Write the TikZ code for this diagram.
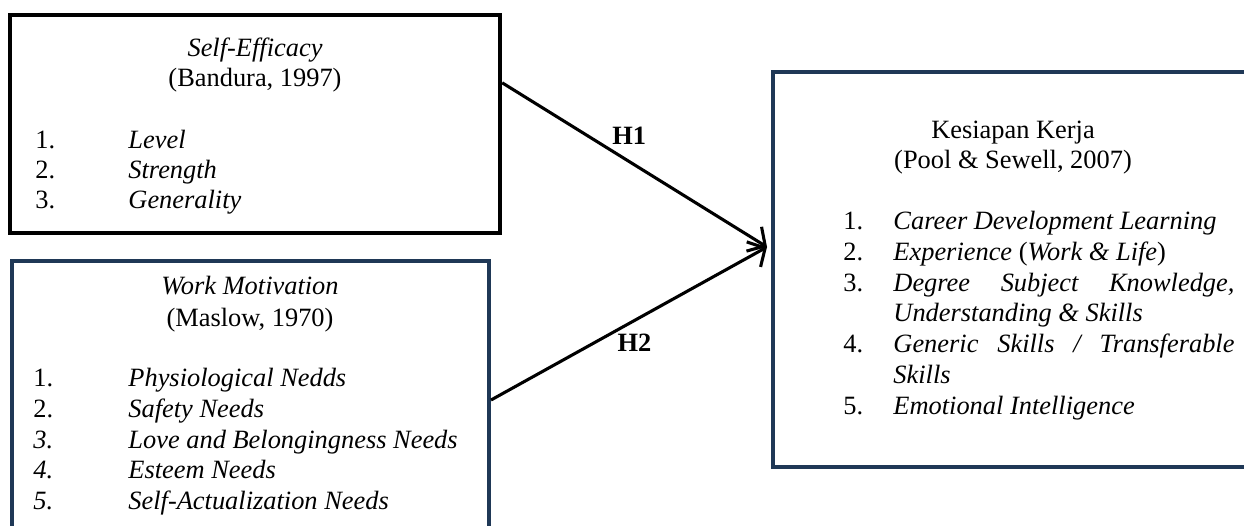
\documentclass[tikz,border=0pt]{standalone}
\usepackage{fontspec}
\setmainfont{Liberation Serif}[
  UprightFont={Liberation Serif},
  ItalicFont={Liberation Serif Italic},
  BoldFont={Liberation Serif Bold},
  BoldItalicFont={Liberation Serif Bold Italic}]
\usetikzlibrary{calc}
\usetikzlibrary{arrows.meta}
\usetikzlibrary{fit}
\definecolor{navy}{HTML}{1F3856}
\tikzset{
  box/.style={inner sep=0pt},
  txt/.style={font=\fontsize{12}{13.8}\selectfont, inner sep=0pt, text height=8pt, text depth=2pt},
  item/.style={txt, anchor=west},
  hyp/.style={font=\fontsize{12}{13.8}\selectfont\bfseries, inner sep=0pt},
  link/.style={black, line width=1.4pt, -{Straight Barb[length=6pt, width=13pt]}},
}
\begin{document}
\begin{tikzpicture}[x=0.4545pt, y=-0.4545pt]
\useasboundingbox (0,0) rectangle (1244,525);
\clip (0,0) rectangle (1244,525);
% frames
\node[box, draw=black, line width=2pt, fit={(10,15) (500,233)}] (se) {};
\node[box, draw=navy, line width=1.8pt, fit={(12,261) (489,560)}] (wm) {};
\node[box, draw=navy, line width=1.8pt, fit={(773,72) (1270,467)}] (kk) {};

% Self-Efficacy
\node[txt] (se title) at (255,50) {\textit{Self-Efficacy}};
\node[txt] (se ref) at (255,80) {(Bandura, 1997)};
\foreach \t [count=\n] in {Level, Strength, Generality} {
 \node[item] (se num\n) at (35,112+30*\n) {\n.};
 \node[item] (se item\n) at (128,112+30*\n) {\textit{\t}};
}

% Work Motivation
\node[txt] (wm title) at (250,288) {\textit{Work Motivation}};
\node[txt] (wm ref) at (250,320) {(Maslow, 1970)};
\foreach \t [count=\n] in {Physiological Nedds, Safety Needs, Love and Belongingness Needs, Esteem Needs, Self-Actualization Needs} {
 \node[item] (wm num\n) at (33,349.25+30.75*\n) {\ifnum\n>2 \textit{\n.}\else \n.\fi};
 \node[item] (wm item\n) at (128,349.25+30.75*\n) {\textit{\t}};
}

% Kesiapan Kerja
\node[txt] (kk title) at (1013,132) {Kesiapan Kerja};
\node[txt] (kk ref) at (1013,162) {(Pool \& Sewell, 2007)};
\node[item] (kk num1) at (843,223) {1.};
\node[item] (kk item1) at (893,223) {\textit{Career Development Learning}};
\node[item] (kk num2) at (843,254) {2.};
\node[item] (kk item2) at (893,254) {\textit{Experience} (\textit{Work \& Life})};
\node[item] (kk num3) at (843,285) {3.};
\node[item] (kk item3) at (893,285) {\makebox[155pt][s]{\itshape Degree Subject Knowledge,}};
\node[item] (kk item3b) at (893,315) {\textit{Understanding \& Skills}};
\node[item] (kk num4) at (843,346) {4.};
\node[item] (kk item4) at (893,346) {\makebox[155pt][s]{\itshape Generic Skills / Transferable}};
\node[item] (kk item4b) at (893,377) {\textit{Skills}};
\node[item] (kk num5) at (843,408) {5.};
\node[item] (kk item5) at (893,408) {\textit{Emotional Intelligence}};

% hypotheses
\coordinate (meet) at (767,247);
\coordinate (h1 start) at ($(se.north east)+(0,70)$);
\coordinate (h2 start) at ($(wm.north east)+(0,141)$);
\draw[link] (h1 start) -- node[hyp, pos=.48, above=7pt] (h1) {H1} (meet);
\draw[link] (h2 start) -- node[hyp, pos=.52, below=5.5pt] (h2) {H2} (meet);
\end{tikzpicture}
\end{document}
